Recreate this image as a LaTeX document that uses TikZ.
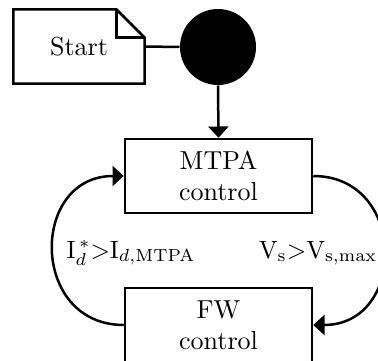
\documentclass[tikz,border=0pt]{standalone}
\usetikzlibrary{arrows.meta}
\begin{document}
\begin{tikzpicture}[x=0.4pt,y=-0.4pt,
  every node/.style={font=\fontsize{10.4}{12.3}\selectfont},
  box/.style={draw,line width=1pt,minimum width=74.8pt,minimum height=29.6pt,align=center,inner sep=0pt},
  conn/.style={line width=1pt},
  arr/.style={conn,-{Triangle[width=8pt,length=4.5pt]}},
  lbl/.style={inner sep=0pt,anchor=base}]
\useasboundingbox (0,0) rectangle (378,360);
\clip (0,0) rectangle (378,360);
\node[minimum width=52pt,minimum height=29.2pt,inner sep=0pt] (start) at (79,46.5) {Start};
\draw[line width=1pt,line join=miter] (start.north west) -- ([xshift=-11.2pt]start.north east) -- ([yshift=-11.2pt]start.north east) -- (start.south east) -- (start.south west) -- cycle;
\draw[line width=1pt] ([xshift=-11.2pt]start.north east) |- ([yshift=-11.2pt]start.north east);
\node[circle,fill=black,minimum size=30.4pt,inner sep=0pt] (dot) at (218,47) {};
\node[box] (mtpa) at (218.5,176) {MTPA\\control};
\node[box] (fw) at (218.5,325) {FW\\control};
\draw[conn] (start.east) -- (dot.west);
\draw[arr] (dot.south) -- (mtpa.north);
\draw[arr] (fw.west) to[out=180,in=180,looseness=1.62] (mtpa.west);
\draw[arr] (mtpa.east) to[out=0,in=0,looseness=1.62] (fw.east);
\node[lbl] (l1) at (131,258) {$\mathrm{I}_{d}^{\,*}{>}\mathrm{I}_{d,\mathrm{MTPA}}$};
\node[lbl] (l2) at (318,258) {$\mathrm{V}_{\mathrm{s}}{>}\mathrm{V}_{\mathrm{s,max}}$};
\end{tikzpicture}
\end{document}
